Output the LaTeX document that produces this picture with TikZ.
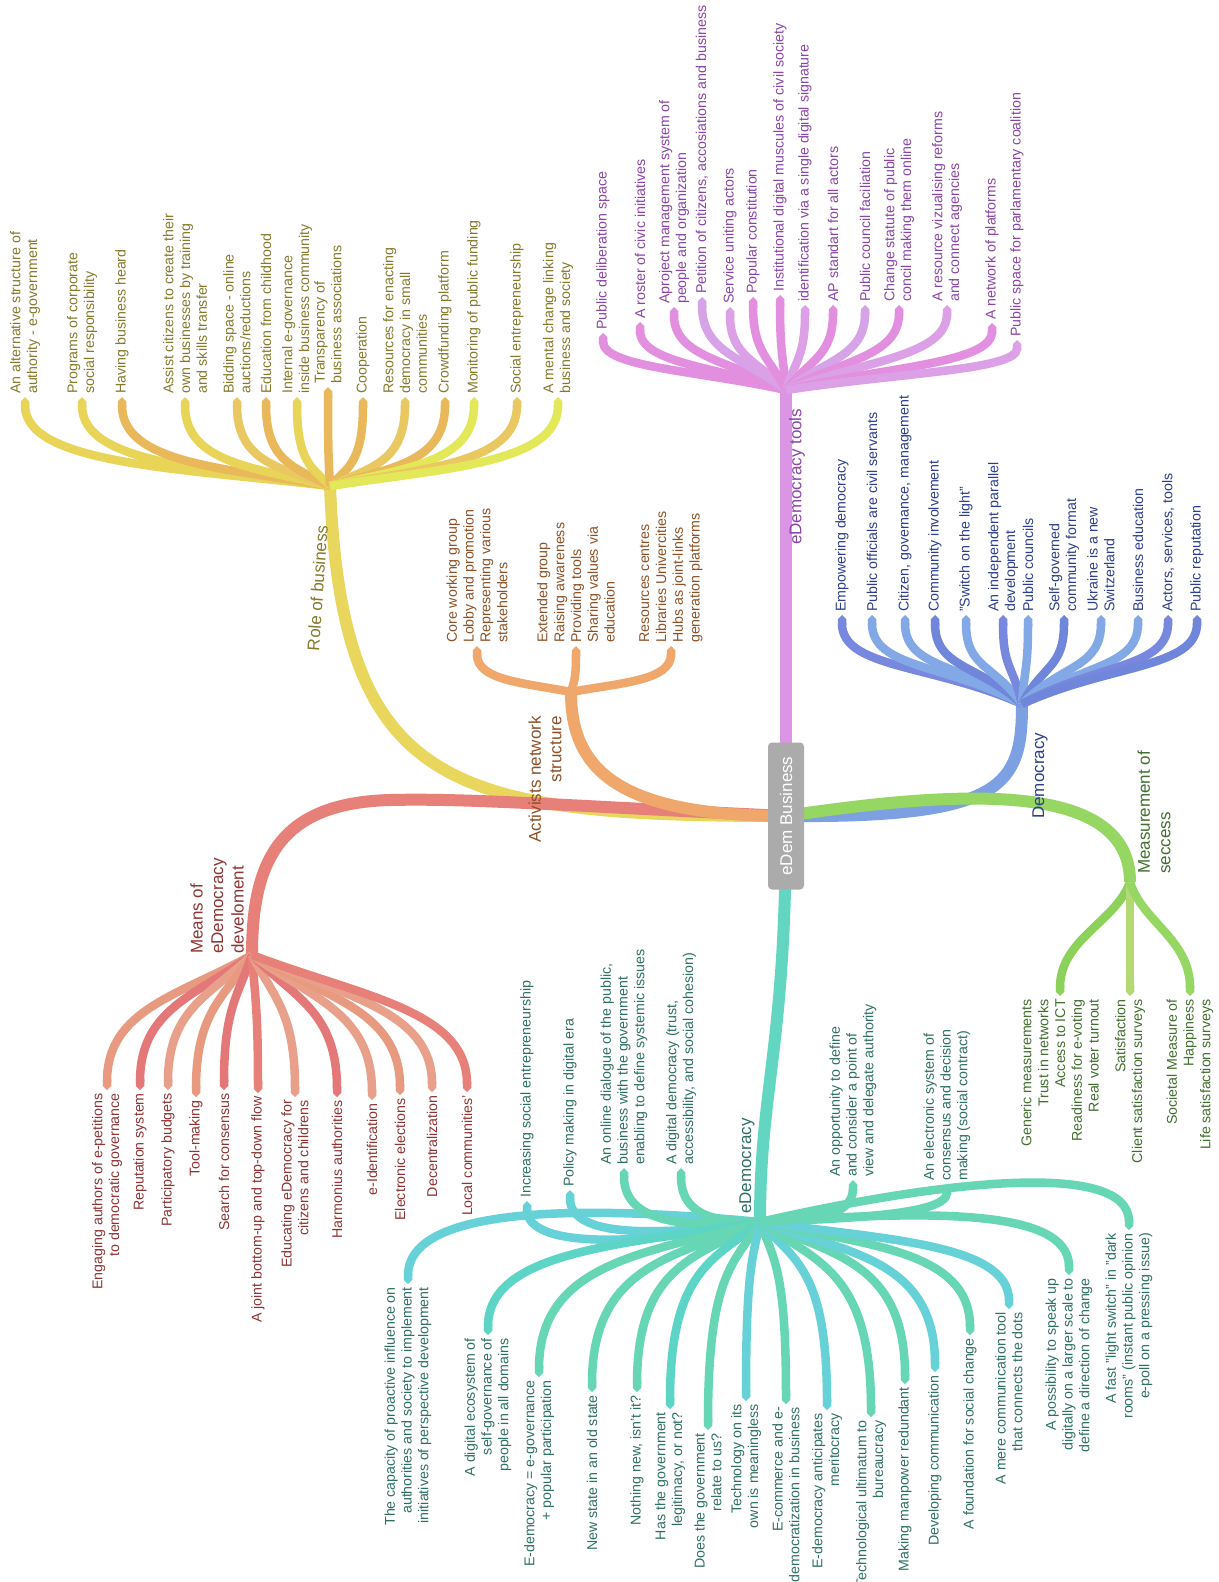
\documentclass[tikz,border=0pt]{standalone}
\usepackage{fontspec}
\setmainfont{Liberation Sans}
\usetikzlibrary{arrows.meta,calc}
\definecolor{cgray}{HTML}{ABABAB}
\definecolor{ym}{HTML}{E8D75C}\definecolor{ya}{HTML}{E8D457}\definecolor{yo}{HTML}{E9B85A}
\definecolor{yl}{HTML}{E3E858}\definecolor{yc}{HTML}{E9C862}\definecolor{yt}{HTML}{857A2C}
\definecolor{om}{HTML}{EFA76C}\definecolor{ot}{HTML}{8E5127}
\definecolor{pm}{HTML}{DC94E4}\definecolor{pa}{HTML}{E28FDF}\definecolor{pb}{HTML}{D6A2E8}
\definecolor{pc}{HTML}{DCA0E6}\definecolor{pt}{HTML}{8B45A6}
\definecolor{bm}{HTML}{7DA0E2}\definecolor{ba}{HTML}{7888DE}\definecolor{bb}{HTML}{82A8E6}
\definecolor{bc}{HTML}{6F86DA}\definecolor{bt}{HTML}{2D3E8C}
\definecolor{gm}{HTML}{96D662}\definecolor{ga}{HTML}{8CD15A}\definecolor{gb}{HTML}{B4D874}
\definecolor{gt}{HTML}{426E2F}
\definecolor{tm}{HTML}{62D6C0}\definecolor{ta}{HTML}{66D6B4}\definecolor{tb}{HTML}{66D2D8}
\definecolor{tc}{HTML}{5CD4C6}\definecolor{tt}{HTML}{2F7064}
\definecolor{rm}{HTML}{E8807A}\definecolor{ra}{HTML}{E89A80}\definecolor{rb}{HTML}{E47878}
\definecolor{rc}{HTML}{E8A08A}\definecolor{rt}{HTML}{8E3434}
\newcommand\leafi[6]{\draw[#4] let \p1=(#5), \p2=(#6) in (\p1) .. controls ({\x1+(#1)*(\x2-\x1)},{\y1+(#2)*(\y2-\y1)}) and ({\x2},{\y2-(#3)*(\y2-\y1)}) .. (\p2);}
\newcommand\leaf[4][{0.5}{0.2}{0.75}]{\leafi#1{#2}{#3}{#4}}
\tikzset{
  lblup/.style={rotate=90, anchor=west, align=left, inner xsep=3pt, inner ysep=0pt, font=\fontsize{14.2}{16.8}\selectfont},
  lbldn/.style={rotate=90, anchor=east, align=right, inner xsep=3pt, inner ysep=0pt, font=\fontsize{14.2}{16.8}\selectfont},
  lf/.style={line width=8.5pt, -{Triangle Cap}},
  mainbr/.style={line width=12pt},
  brlbl/.style={rotate=90, inner sep=0pt, font=\fontsize{17}{20.5}\selectfont},
}
\begin{document}
\begin{tikzpicture}[x=1pt,y=-1pt]
\useasboundingbox (0,0) rectangle (1218,1582);
\fill[white] (0,0) rectangle (1218,1582);
% hubs
\coordinate (core) at (786,816);
\coordinate (hRole) at (330,486);
\coordinate (hAct) at (571,692);
\coordinate (hTools) at (786,390);
\coordinate (hDem) at (1022,704);
\coordinate (hMeas) at (1130,882);
\coordinate (hEdem) at (760,1222);
\coordinate (hMeans) at (252,955);
% main branches
\draw[mainbr,ym] (core) .. controls (450,816) and (342,790) .. (hRole);
\draw[mainbr,rm] (core) .. controls (570,806) and (470,798) .. (390,800) .. controls (280,803) and (252,860) .. (hMeans);
\draw[mainbr,om] (core) .. controls (612,816) and (571,765) .. (hAct);
\draw[mainbr,pm] (core) -- (hTools);
\draw[mainbr,bm] (core) .. controls (1005,818) and (1022,785) .. (hDem);
\draw[mainbr,gm] (core) .. controls (960,790) and (1130,780) .. (hMeas);
\draw[mainbr,tm] (core) .. controls (786,1050) and (760,1085) .. (hEdem);
% branch labels
\node[brlbl,rotate=-4,anchor=west,text=yt] (lRole) at (313,651) {Role of business};
\node[brlbl,anchor=east,align=right,text=ot] (lAct) at (545,716) {Activists network\\structure};
\node[brlbl,anchor=west,text=pt] (lTools) at (797,545) {eDemocracy tools};
\node[brlbl,anchor=west,text=bt] (lDem) at (1040,819) {Democracy};
\node[brlbl,anchor=west,align=left,text=gt] (lMeas) at (1154,874) {Measurement of\\seccess};
\node[brlbl,anchor=west,text=tt] (lEdem) at (747,1214) {eDemocracy};
\node[brlbl,anchor=west,align=left,text=rt] (lMeans) at (217,954) {Means of\\eDemocracy\\develoment};
% ---- Role of business
\node[lblup,text=yt] (Y1) at (25,397) {An alternative structure of\\authority - e-government};
\node[lblup,text=yt] (Y2) at (82,397) {Programs of corporate\\social responsibility};
\node[lblup,text=yt] (Y3) at (122,397) {Having business heard};
\node[lblup,text=yt] (Y4) at (185,397) {Assist citizens to create their\\own businesses by training\\and skills transfer};
\node[lblup,text=yt] (Y5) at (237,397) {Bidding space - online\\auctions/reductions};
\node[lblup,text=yt] (Y6) at (266,397) {Education from childhood};
\node[lblup,text=yt] (Y7) at (297,397) {Internal e-governance\\inside business community};
\node[lblup,text=yt] (Y8) at (328,387) {Transparency of\\business associations};
\node[lblup,text=yt] (Y9) at (363,397) {Cooperation};
\node[lblup,text=yt] (Y10) at (405,397) {Resources for enacting\\democracy in small\\communities};
\node[lblup,text=yt] (Y11) at (445,397) {Crowdfunding platform};
\node[lblup,text=yt] (Y12) at (474,397) {Monitoring of public funding};
\node[lblup,text=yt] (Y13) at (517,397) {Social entrepreneurship};
\node[lblup,text=yt] (Y14) at (558,397) {A mental change linking\\business and society};
\leaf{lf,ya}{hRole}{Y1.west}
\leaf{lf,ya}{hRole}{Y2.west}
\leaf{lf,yo}{hRole}{Y3.west}
\leaf{lf,ya}{hRole}{Y4.west}
\leaf{lf,yc}{hRole}{Y5.west}
\leaf{lf,yo}{hRole}{Y6.west}
\leaf{lf,ya}{hRole}{Y7.west}
\leaf{lf,yo}{hRole}{Y8.west}
\leaf{lf,yo}{hRole}{Y9.west}
\leaf{lf,yc}{hRole}{Y10.west}
\leaf{lf,yo}{hRole}{Y11.west}
\leaf{lf,yl}{hRole}{Y12.west}
\leaf{lf,yc}{hRole}{Y13.west}
\leaf{lf,yl}{hRole}{Y14.west}
% ---- Activists
\node[lblup,text=ot] (O1) at (477,646) {Core working group\\Lobby and promotion\\Representing various\\stakeholders};
\node[lblup,text=ot] (O2) at (576,646) {Extended group\\Raising awareness\\Providing tools\\Sharing values via\\education};
\node[lblup,text=ot] (O3) at (671,646) {Resources centres\\Libraries Univercities\\Hubs as joint-links\\generation platforms};
\leaf{lf,om}{hAct}{O1.west}
\leaf{lf,om}{hAct}{O2.west}
\leaf{lf,om}{hAct}{O3.west}
% ---- eDemocracy tools
\node[lblup,text=pt] (P1) at (603,333) {Public deliberation space};
\node[lblup,text=pt] (P2) at (640,322) {A roster of civic initiatives};
\node[lblup,text=pt] (P3) at (674,307) {Aproject management system of\\people and organization};
\node[lblup,text=pt] (P4) at (702,297) {Petition of citizens, accosiations and business};
\node[lblup,text=pt] (P5) at (730,307) {Service uniting actors};
\node[lblup,text=pt] (P6) at (753,297) {Popular constitution};
\node[lblup,text=pt] (P7) at (780,295) {Institutional digital muscules of civil society};
\node[lblup,text=pt] (P8) at (805,305) {identification via a single digital signature};
\node[lblup,text=pt] (P9) at (833,305) {AP standart for all actors};
\node[lblup,text=pt] (P10) at (865,305) {Public council faciliation};
\node[lblup,text=pt] (P11) at (899,305) {Change statute of public\\concil making them online};
\node[lblup,text=pt] (P12) at (947,305) {A resource vizualising reforms\\and connect agencies};
\node[lblup,text=pt] (P13) at (992,323) {A network of platforms};
\node[lblup,text=pt] (P14) at (1017,340) {Public space for parlamentary coalition};
\leaf[{0.5}{0.35}{0.6}]{lf,pa}{hTools}{P1.west}
\leaf[{0.5}{0.35}{0.6}]{lf,pa}{hTools}{P2.west}
\leaf[{0.5}{0.35}{0.6}]{lf,pa}{hTools}{P3.west}
\leaf[{0.5}{0.35}{0.6}]{lf,pb}{hTools}{P4.west}
\leaf[{0.5}{0.35}{0.6}]{lf,pc}{hTools}{P5.west}
\leaf[{0.5}{0.35}{0.6}]{lf,pa}{hTools}{P6.west}
\leaf[{0.5}{0.35}{0.6}]{lf,pa}{hTools}{P7.west}
\leaf[{0.5}{0.35}{0.6}]{lf,pc}{hTools}{P8.west}
\leaf[{0.5}{0.35}{0.6}]{lf,pa}{hTools}{P9.west}
\leaf[{0.5}{0.35}{0.6}]{lf,pb}{hTools}{P10.west}
\leaf[{0.5}{0.35}{0.6}]{lf,pa}{hTools}{P11.west}
\leaf[{0.5}{0.35}{0.6}]{lf,pc}{hTools}{P12.west}
\leaf[{0.5}{0.35}{0.6}]{lf,pa}{hTools}{P13.west}
\leaf[{0.5}{0.35}{0.6}]{lf,pc}{hTools}{P14.west}
% ---- Democracy
\node[lblup,text=bt] (B1) at (842,615) {Empowering democracy};
\node[lblup,text=bt] (B2) at (872,615) {Public officials are civil servants};
\node[lblup,text=bt] (B3) at (905,615) {Citizen, governance, management};
\node[lblup,text=bt] (B4) at (935,615) {Community involvement};
\node[lblup,text=bt] (B5) at (966,615) {"Switch on the light"};
\node[lblup,text=bt] (B6) at (1003,615) {An independent parallel\\development};
\node[lblup,text=bt] (B7) at (1028,615) {Public councils};
\node[lblup,text=bt] (B8) at (1064,615) {Self-governed\\community format};
\node[lblup,text=bt] (B9) at (1101,615) {Ukraine is a new\\Switzerland};
\node[lblup,text=bt] (B10) at (1138,615) {Business education};
\node[lblup,text=bt] (B11) at (1168,615) {Actors, services, tools};
\node[lblup,text=bt] (B12) at (1197,615) {Public reputation};
\leaf[{0.5}{0.45}{0.6}]{lf,ba}{hDem}{B1.west}
\leaf[{0.5}{0.45}{0.6}]{lf,bb}{hDem}{B2.west}
\leaf[{0.5}{0.45}{0.6}]{lf,bb}{hDem}{B3.west}
\leaf[{0.5}{0.45}{0.6}]{lf,bc}{hDem}{B4.west}
\leaf[{0.5}{0.45}{0.6}]{lf,bb}{hDem}{B5.west}
\leaf[{0.5}{0.45}{0.6}]{lf,ba}{hDem}{B6.west}
\leaf[{0.5}{0.45}{0.6}]{lf,bb}{hDem}{B7.west}
\leaf[{0.5}{0.45}{0.6}]{lf,bc}{hDem}{B8.west}
\leaf[{0.5}{0.45}{0.6}]{lf,bb}{hDem}{B9.west}
\leaf[{0.5}{0.45}{0.6}]{lf,bb}{hDem}{B10.west}
\leaf[{0.5}{0.45}{0.6}]{lf,ba}{hDem}{B11.west}
\leaf[{0.5}{0.45}{0.6}]{lf,bc}{hDem}{B12.west}
% ---- Measurement
\node[lbldn,text=gt] (G1) at (1060,996) {Generic measurements\\Trust in networks\\Access to ICT\\Readiness for e-voting\\Real voter turnout};
\node[lbldn,text=gt] (G2) at (1130,996) {Satisfaction\\Client satisfaction surveys};
\node[lbldn,text=gt] (G3) at (1190,996) {Societal Measure of\\Happiness\\Life satisfaction surveys};
\leaf[{0.2}{0.35}{0.5}]{lf,ga}{hMeas}{G1.east}
\leaf[{0.2}{0.35}{0.5}]{lf,gb}{hMeas}{G2.east}
\leaf[{0.2}{0.35}{0.5}]{lf,gm}{hMeas}{G3.east}
% ---- Means of eDemocracy
\node[lbldn,text=rt] (R1) at (107,1090) {Engaging authors of e-petitions\\to democratic governance};
\node[lbldn,text=rt] (R2) at (140,1090) {Reputation system};
\node[lbldn,text=rt] (R3) at (168,1090) {Participatory budgets};
\node[lbldn,text=rt] (R4) at (196,1097) {Tool-making};
\node[lbldn,text=rt] (R5) at (224,1090) {Search for consensus};
\node[lbldn,text=rt] (R6) at (258,1093) {A joint bottom-up and top-down flow};
\node[lbldn,text=rt] (R7) at (295,1097) {Educating eDemocracy for\\citizens and childrens};
\node[lbldn,text=rt] (R8) at (337,1097) {Harmonius authorities};
\node[lbldn,text=rt] (R9) at (372,1100) {e-Identification};
\node[lbldn,text=rt] (R10) at (400,1095) {Electronic elections};
\node[lbldn,text=rt] (R11) at (432,1092) {Decentralization};
\node[lbldn,text=rt] (R12) at (467,1092) {Local communities'};
\leaf[{0.5}{0.3}{0.6}]{lf,ra}{hMeans}{R1.east}
\leaf[{0.5}{0.3}{0.6}]{lf,rb}{hMeans}{R2.east}
\leaf[{0.5}{0.3}{0.6}]{lf,rc}{hMeans}{R3.east}
\leaf[{0.5}{0.3}{0.6}]{lf,ra}{hMeans}{R4.east}
\leaf[{0.5}{0.3}{0.6}]{lf,rb}{hMeans}{R5.east}
\leaf[{0.5}{0.3}{0.6}]{lf,rm}{hMeans}{R6.east}
\leaf[{0.5}{0.3}{0.6}]{lf,rc}{hMeans}{R7.east}
\leaf[{0.5}{0.3}{0.6}]{lf,rb}{hMeans}{R8.east}
\leaf[{0.5}{0.3}{0.6}]{lf,rc}{hMeans}{R9.east}
\leaf[{0.5}{0.3}{0.6}]{lf,ra}{hMeans}{R10.east}
\leaf[{0.5}{0.3}{0.6}]{lf,rc}{hMeans}{R11.east}
\leaf[{0.5}{0.3}{0.6}]{lf,rm}{hMeans}{R12.east}
% ---- eDemocracy (upper)
\node[lblup,text=tt] (E1) at (527,1201) {Increasing social entrepreneurship};
\node[lblup,text=tt] (E2) at (570,1190) {Policy making in digital era};
\node[lblup,text=tt] (E3) at (624,1168) {An online dialogue of the public,\\business with the government\\enabling to define systemic issues};
\node[lblup,text=tt] (E4) at (681,1168) {A digital democracy (trust,\\accessibility, and social cohesion)};
\node[lblup,text=tt] (E5) at (853,1180) {An opportunity to define\\and consider a point of\\view and delegate authority};
\node[lblup,text=tt] (E6) at (947,1184) {An electronic system of\\consensus and decision\\making (social contract)};
% ---- eDemocracy (lower)
\node[lbldn,text=tt] (F1) at (408,1284) {The capacity of proactive influence on\\authorities and society to implement\\initiatives of perspective development};
\node[lbldn,text=tt] (F2) at (488,1335) {A digital ecosystem of\\self-governance of\\people in all domains};
\node[lbldn,text=tt] (F3) at (539,1377) {E-democracy = e-governance\\+ popular participation};
\node[lbldn,text=tt] (F4) at (592,1392) {New state in an old state};
\node[lbldn,text=tt] (F5) at (637,1392) {Nothing new, isn't it?};
\node[lbldn,text=tt] (F6) at (670,1409) {Has the government\\legitimacy, or not?};
\node[lbldn,text=tt] (F7) at (708,1430) {Does the government\\relate to us?};
\node[lbldn,text=tt] (F8) at (746,1401) {Technology on its\\own is meaningless};
\node[lbldn,text=tt] (F9) at (786,1404) {E-commerce and e-\\democratization in business};
\node[lbldn,text=tt] (F10) at (827,1410) {E-democracy anticipates\\meritocracy};
\node[lbldn,text=tt] (F11) at (871,1417) {Technological ultimatum to\\bureaucracy};
\node[lbldn,text=tt] (F12) at (905,1384) {Making manpower redundant};
\node[lbldn,text=tt] (F13) at (935,1372) {Developing communication};
\node[lbldn,text=tt] (F14) at (970,1335) {A foundation for social change};
\node[lbldn,text=tt] (F15) at (1009,1309) {A mere communication tool\\that connects the dots};
\node[lbldn,text=tt] (F16) at (1069,1275) {A possibility to speak up\\digitally on a larger scale to\\define a direction of change};
\node[lbldn,text=tt] (F17) at (1129,1230) {A fast "light switch" in "dark\\rooms" (instant public opinion\\e-poll on a pressing issue)};
\leaf[{0.5}{-0.27}{1.27}]{lf,tb}{hEdem}{F1.east}
\leaf[{0.5}{-1.1}{2.33}]{lf,tb}{hEdem}{E1.west}
\leaf[{0.5}{-0.4}{1.56}]{lf,tb}{hEdem}{E2.west}
\leaf[{0.5}{-0.11}{1.06}]{lf,ta}{hEdem}{E3.west}
\leaf[{0.5}{0}{0.93}]{lf,ta}{hEdem}{E4.west}
\leaf[{0.5}{0}{0.9}]{lf,ta}{hEdem}{E5.west}
\leaf[{0.5}{0.1}{0.8}]{lf,ta}{hEdem}{E6.west}
\leaf{lf,tc}{hEdem}{F2.east}
\leaf{lf,ta}{hEdem}{F3.east}
\leaf{lf,ta}{hEdem}{F4.east}
\leaf{lf,ta}{hEdem}{F5.east}
\leaf{lf,tc}{hEdem}{F6.east}
\leaf{lf,ta}{hEdem}{F7.east}
\leaf{lf,tb}{hEdem}{F8.east}
\leaf{lf,ta}{hEdem}{F9.east}
\leaf{lf,tb}{hEdem}{F10.east}
\leaf{lf,ta}{hEdem}{F11.east}
\leaf{lf,ta}{hEdem}{F12.east}
\leaf{lf,tb}{hEdem}{F13.east}
\leaf{lf,ta}{hEdem}{F14.east}
\leaf{lf,tb}{hEdem}{F15.east}
\leaf[{0.5}{-0.19}{1.32}]{lf,ta}{hEdem}{F16.east}
\leaf[{0.5}{-5.25}{8.75}]{lf,ta}{hEdem}{F17.east}
% ---- center
\node[rotate=90, fill=cgray, rounded corners=4pt, minimum width=147pt, minimum height=36pt, inner sep=0pt, text=white, font=\fontsize{17}{20}\selectfont] (c) at (core) {eDem Business};
\end{tikzpicture}
\end{document}
